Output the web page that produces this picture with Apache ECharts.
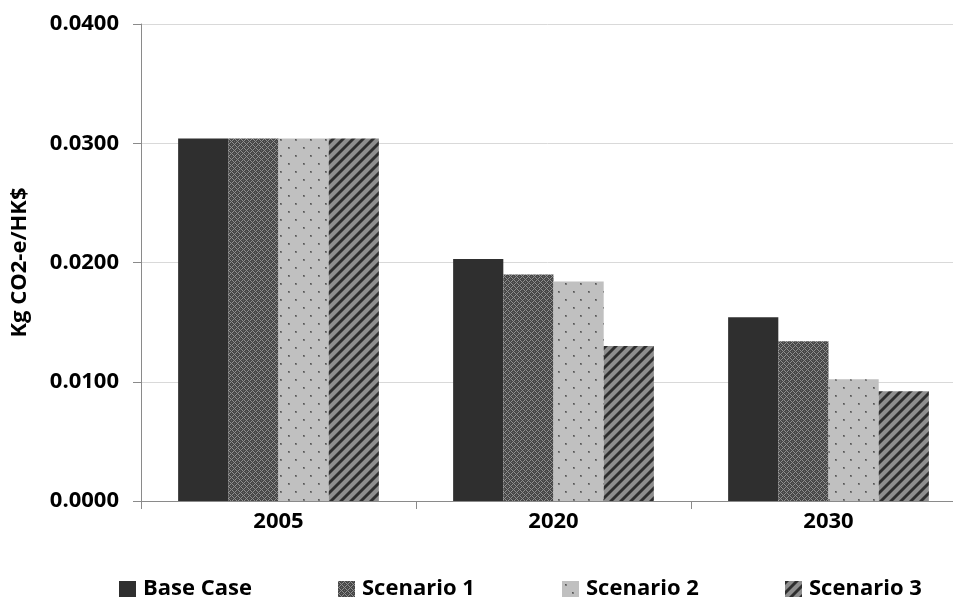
<!DOCTYPE html>
<html>
<head>
<meta charset="utf-8">
<script src="https://cdn.jsdelivr.net/npm/echarts@6/dist/echarts.min.js"></script>
<style>
  html, body { margin: 0; padding: 0; background: #ffffff; }
  #chart { width: 953px; height: 599px; }
</style>
</head>
<body>
<div id="chart"></div>
<script>
// Emission intensity by year and scenario
const years = ['2005', '2020', '2030'];
const baseCase  = [0.0304, 0.0203, 0.0154];
const scenario1 = [0.0304, 0.0190, 0.0134];
const scenario2 = [0.0304, 0.0184, 0.0102];
const scenario3 = [0.0304, 0.0130, 0.0092];
const seriesNames = ['Base Case', 'Scenario 1', 'Scenario 2', 'Scenario 3'];
const yTicks = [0, 0.01, 0.02, 0.03, 0.04];

const FONT = '"Open Sans"';
const FS = 22;

// Small tiled fill patterns drawn on canvases
function makePattern(w, h, paint) {
  const c = document.createElement('canvas');
  c.width = w; c.height = h;
  const ctx = c.getContext('2d');
  paint(ctx, w, h);
  return { image: c, repeat: 'repeat' };
}

// cross-hatch (Scenario 1)
const hatchFill = makePattern(6, 6, (ctx, w, h) => {
  ctx.fillStyle = '#474747';
  ctx.fillRect(0, 0, w, h);
  ctx.fillStyle = '#8f8f8f';
  for (let y = 0; y < h; y++) {
    for (let x = 0; x < w; x++) {
      const a = (x + y) % 6, b = (x - y + 6) % 6;
      if (a === 0 || b === 0) ctx.fillRect(x, y, 1, 1);
    }
  }
  ctx.fillStyle = '#6a6a6a';
  ctx.fillRect(3, 0, 1, 1);
  ctx.fillRect(0, 3, 1, 1);
});

// sparse dots on light grey (Scenario 2)
const dotFill = makePattern(15, 16, (ctx, w, h) => {
  ctx.fillStyle = '#c0c0c0';
  ctx.fillRect(0, 0, w, h);
  ctx.fillStyle = '#7a7a7a';
  ctx.fillRect(3, 3, 2, 2);
  ctx.fillRect(10, 11, 2, 2);
  ctx.fillStyle = '#555555';
  ctx.fillRect(3, 3, 1, 1);
  ctx.fillRect(10, 11, 1, 1);
});

// diagonal stripes (Scenario 3)
const stripeFill = makePattern(10, 10, (ctx, w, h) => {
  for (let y = 0; y < h; y++) {
    for (let x = 0; x < w; x++) {
      const d = (x + y) % 10;
      ctx.fillStyle = d < 3 ? '#2e2e2e' : (d === 3 || d === 9 ? '#5a5a5a' : '#8e8e8e');
      ctx.fillRect(x, y, 1, 1);
    }
  }
});

const fills = ['#2f2f2f', hatchFill, dotFill, stripeFill];
const values = [baseCase, scenario1, scenario2, scenario3];

const chart = echarts.init(document.getElementById('chart'), null, { renderer: 'canvas' });

const legendLeft = [114, 333, 557, 780];
const legends = seriesNames.map((name, i) => ({
  data: [name],
  left: legendLeft[i],
  top: 573,
  orient: 'horizontal',
  icon: 'rect',
  itemWidth: 17,
  itemHeight: 16,
  itemGap: 0,
  textStyle: { fontFamily: FONT, fontWeight: 'bold', fontSize: FS, color: '#000', padding: [0, 0, 0, 2] }
}));

chart.setOption({
  animation: false,
  backgroundColor: '#ffffff',
  grid: { left: 141, top: 24, width: 825, height: 477, containLabel: false, outerBoundsMode: 'none' },
  legend: legends,
  xAxis: {
    type: 'category',
    data: years,
    axisLine: { lineStyle: { color: '#8a8a8a', width: 1 } },
    axisTick: { show: true, length: 8, lineStyle: { color: '#8a8a8a' } },
    axisLabel: { margin: 10, fontFamily: FONT, fontWeight: 'bold', fontSize: FS, color: '#000' },
    splitLine: { show: false }
  },
  yAxis: {
    type: 'value',
    min: yTicks[0],
    max: yTicks[yTicks.length - 1],
    interval: yTicks[1] - yTicks[0],
    name: 'Kg CO2-e/HK$',
    nameLocation: 'middle',
    nameGap: 110,
    nameTextStyle: { fontFamily: FONT, fontWeight: 'bold', fontSize: FS, color: '#000' },
    axisLine: { show: true, lineStyle: { color: '#8a8a8a', width: 1 } },
    axisTick: { show: true, length: 8, lineStyle: { color: '#8a8a8a' } },
    axisLabel: {
      margin: 22, fontFamily: FONT, fontWeight: 'bold', fontSize: FS, color: '#000',
      formatter: v => v.toFixed(4)
    },
    splitLine: { show: true, lineStyle: { color: '#d9d9d9', width: 1 } }
  },
  series: seriesNames.map((name, i) => ({
    name: name,
    type: 'bar',
    data: values[i],
    barGap: '0%',
    barCategoryGap: '27%',
    itemStyle: { color: fills[i] },
    emphasis: { disabled: true }
  }))
});
</script>
</body>
</html>
